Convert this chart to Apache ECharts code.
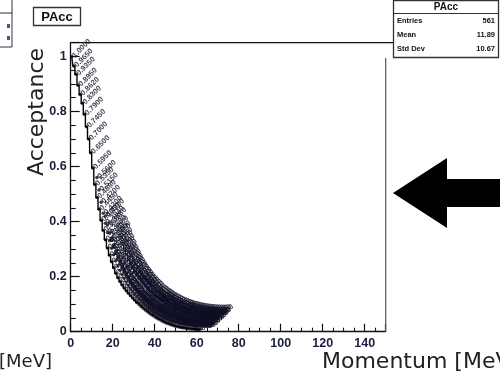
<!DOCTYPE html>
<html>
<head>
<meta charset="utf-8">
<script src="https://cdn.jsdelivr.net/npm/echarts@6/dist/echarts.min.js"></script>
<style>
  html, body { margin: 0; padding: 0; background: #ffffff; }
  #chart { width: 500px; height: 373px; }
</style>
</head>
<body>
<div id="chart"></div>
<script>
// Axis ticks
const xTickLabels = [0, 20, 40, 60, 80, 100, 120, 140];
const yTickLabels = [0, 0.2, 0.4, 0.6, 0.8, 1];

// Acceptance per 1 MeV momentum bin; each curve starts at its first bin edge
const mainStart = 0;
const mainValues = [1.000, 0.965, 0.935, 0.895, 0.862, 0.830, 0.790, 0.745, 0.700, 0.650,
  0.595, 0.535, 0.488, 0.445, 0.405, 0.368, 0.334, 0.304, 0.278, 0.254,
  0.232, 0.212, 0.196, 0.182, 0.170, 0.159, 0.149, 0.140, 0.131, 0.122,
  0.114, 0.106, 0.099, 0.092, 0.085, 0.079, 0.073, 0.067, 0.062, 0.057,
  0.052, 0.047, 0.043, 0.039, 0.035, 0.032, 0.029, 0.026, 0.023, 0.021,
  0.019, 0.017, 0.015, 0.014, 0.013, 0.012, 0.011, 0.010, 0.010, 0.009,
  0.008, 0.008];

const midStart = 12;
const midValues = [0.560, 0.515, 0.470, 0.430, 0.394, 0.360, 0.330, 0.303, 0.280, 0.258,
  0.240, 0.223, 0.208, 0.194, 0.181, 0.169, 0.158, 0.148, 0.138, 0.129,
  0.120, 0.112, 0.104, 0.097, 0.090, 0.084, 0.078, 0.072, 0.067, 0.062,
  0.058, 0.054, 0.050, 0.047, 0.044, 0.041, 0.038, 0.036, 0.034, 0.032,
  0.030, 0.029, 0.027, 0.026, 0.025, 0.024, 0.023, 0.022, 0.022, 0.021,
  0.021, 0.020, 0.020, 0.020, 0.019];

const upperStart = 16;
const upperValues = [0.420, 0.388, 0.358, 0.331, 0.307, 0.285, 0.265, 0.247, 0.231, 0.216,
  0.202, 0.189, 0.177, 0.166, 0.155, 0.145, 0.136, 0.127, 0.119, 0.111,
  0.104, 0.097, 0.091, 0.085, 0.080, 0.075, 0.070, 0.066, 0.062, 0.058,
  0.055, 0.052, 0.049, 0.046, 0.044, 0.042, 0.040, 0.038, 0.036, 0.035,
  0.033, 0.032, 0.031, 0.030, 0.029, 0.028, 0.028, 0.027, 0.027, 0.026,
  0.026, 0.026];

const highStart = 19;
const highValues = [0.340, 0.316, 0.294, 0.274, 0.256, 0.239, 0.224, 0.210, 0.197, 0.185,
  0.174, 0.164, 0.154, 0.145, 0.137, 0.129, 0.121, 0.114, 0.107, 0.101,
  0.095, 0.090, 0.085, 0.080, 0.076, 0.072, 0.068, 0.064, 0.061, 0.058,
  0.055, 0.052, 0.050, 0.048, 0.046, 0.044, 0.042, 0.041, 0.040, 0.039,
  0.038, 0.037, 0.036, 0.036, 0.035, 0.035, 0.035, 0.035, 0.036, 0.036];

// Statistics box
const histName = 'PAcc';
const statNames = ['Entries', 'Mean', 'Std Dev'];
const statValues = ['561', '11.89', '10.67'];

function toPoints(start, values) {
  return values.map((v, i) => [start + i + 0.5, v]);
}

const textColor = '#1b1e3c';
const frame = { left: 70.7, right: 385.7, top: 42.7, bottom: 331.7 };

function binLabels(start, values) {
  return {
    type: 'scatter',
    data: toPoints(start, values),
    symbol: 'circle',
    symbolSize: 3.5,
    itemStyle: { color: '#0b0b16' },
    silent: true,
    z: 3,
    label: {
      show: true,
      position: 'right',
      distance: 0,
      rotate: 45,
      fontSize: 7.5,
      fontWeight: 'bold',
      fontFamily: 'Liberation Sans, Arial, sans-serif',
      color: '#0f0f26',
      formatter: p => p.value[1].toFixed(4)
    }
  };
}

const chart = echarts.init(document.getElementById('chart'), null, { renderer: 'canvas' });

chart.setOption({
  animation: false,
  backgroundColor: '#ffffff',
  grid: {
    left: frame.left,
    right: 500 - frame.right,
    top: frame.top,
    bottom: 373 - frame.bottom,
    containLabel: false
  },
  xAxis: {
    type: 'value',
    min: 0,
    max: 150,
    interval: 20,
    axisLine: { show: true, onZero: false, lineStyle: { color: '#111', width: 1.3 } },
    axisTick: { show: true, inside: true, length: 8, lineStyle: { color: '#111', width: 1.2 } },
    minorTick: { show: true, splitNumber: 4, length: 4, lineStyle: { color: '#111', width: 1.1 } },
    splitLine: { show: false },
    axisLabel: {
      showMaxLabel: false,
      margin: 5,
      fontSize: 12.5,
      fontWeight: 'bold',
      fontFamily: 'Liberation Sans, Arial, sans-serif',
      color: textColor,
      formatter: v => (xTickLabels.indexOf(v) >= 0 ? String(v) : '')
    }
  },
  yAxis: {
    type: 'value',
    min: 0,
    max: 1.05,
    interval: 0.2,
    axisLine: { show: true, onZero: false, lineStyle: { color: '#111', width: 1.3 } },
    axisTick: { show: true, inside: true, length: 9, lineStyle: { color: '#111', width: 1.2 } },
    minorTick: { show: true, splitNumber: 4, length: 5, lineStyle: { color: '#111', width: 1.1 } },
    splitLine: { show: false },
    axisLabel: {
      showMaxLabel: false,
      margin: 4,
      fontSize: 12.5,
      fontWeight: 'bold',
      fontFamily: 'Liberation Sans, Arial, sans-serif',
      color: textColor,
      formatter: v => {
        const r = Math.round(v * 100) / 100;
        return yTickLabels.indexOf(r) >= 0 ? String(r) : '';
      }
    }
  },
  series: [
    {
      type: 'line',
      step: 'middle',
      data: toPoints(mainStart, mainValues),
      showSymbol: false,
      silent: true,
      z: 4,
      lineStyle: { color: '#000', width: 1.4 }
    },
    binLabels(mainStart, mainValues),
    binLabels(midStart, midValues),
    binLabels(upperStart, upperValues),
    binLabels(highStart, highValues)
  ],
  graphic: [
    // frame top and right edges
    { type: 'polyline', silent: true, z: 10,
      shape: { points: [[frame.left, frame.top], [393, frame.top]] },
      style: { stroke: '#111', lineWidth: 1.2, fill: null } },
    { type: 'polyline', silent: true, z: 10,
      shape: { points: [[frame.right, 58], [frame.right, frame.bottom]] },
      style: { stroke: '#555', lineWidth: 1.2, fill: null } },
    // partial neighbouring pad at the left edge
    { type: 'rect', silent: true, z: 10,
      shape: { x: -2, y: -2, width: 14, height: 49 },
      style: { fill: '#fff', stroke: '#333', lineWidth: 1 } },
    { type: 'line', silent: true, z: 10,
      shape: { x1: 0, y1: 13, x2: 12, y2: 13 },
      style: { stroke: '#333', lineWidth: 1 } },
    { type: 'rect', silent: true, z: 10, shape: { x: 7, y: 24, width: 3, height: 4 }, style: { fill: '#3a5a9a' } },
    { type: 'rect', silent: true, z: 10, shape: { x: 7, y: 36, width: 3, height: 4 }, style: { fill: '#3a5a9a' } },
    // histogram title box
    { type: 'rect', silent: true, z: 10,
      shape: { x: 33.5, y: 7.5, width: 47, height: 18 },
      style: { fill: '#fff', stroke: '#333', lineWidth: 1.3 } },
    { type: 'text', silent: true, z: 11, x: 57, y: 17,
      style: { text: histName, fill: '#111', font: 'bold 13px "Liberation Sans", Arial, sans-serif',
        align: 'center', verticalAlign: 'middle' } },
    // statistics box
    { type: 'rect', silent: true, z: 10,
      shape: { x: 393.5, y: 0.5, width: 105, height: 57 },
      style: { fill: '#fff', stroke: '#333', lineWidth: 1.3 } },
    { type: 'line', silent: true, z: 11,
      shape: { x1: 393.5, y1: 13.5, x2: 498.5, y2: 13.5 },
      style: { stroke: '#333', lineWidth: 1 } },
    { type: 'text', silent: true, z: 11, x: 446, y: 7.5,
      style: { text: histName, fill: '#111', font: 'bold 10px "Liberation Sans", Arial, sans-serif',
        align: 'center', verticalAlign: 'middle' } },
    ...statNames.map((n, i) => ({
      type: 'text', silent: true, z: 11, x: 397, y: 21 + i * 14,
      style: { text: n, fill: '#111', font: 'bold 7.5px "Liberation Sans", Arial, sans-serif',
        align: 'left', verticalAlign: 'middle' }
    })),
    ...statValues.map((v, i) => ({
      type: 'text', silent: true, z: 11, x: 495, y: 21 + i * 14,
      style: { text: v, fill: '#111', font: 'bold 7.5px "Liberation Sans", Arial, sans-serif',
        align: 'right', verticalAlign: 'middle' }
    })),
    // axis titles
    { type: 'text', silent: true, z: 11, x: 37, y: 112, rotation: Math.PI / 2,
      style: { text: 'Acceptance', fill: '#222', font: '22px "DejaVu Sans", sans-serif',
        align: 'center', verticalAlign: 'middle' } },
    { type: 'text', silent: true, z: 11, x: 322, y: 362,
      style: { text: 'Momentum [MeV', fill: '#222', font: '22px "DejaVu Sans", sans-serif',
        align: 'left', verticalAlign: 'middle' } },
    { type: 'text', silent: true, z: 11, x: -1, y: 362,
      style: { text: '[MeV]', fill: '#222', font: '18px "DejaVu Sans", sans-serif',
        align: 'left', verticalAlign: 'middle' } },
    // pointer arrow
    { type: 'polygon', silent: true, z: 11,
      shape: { points: [[393, 193], [447, 158], [447, 179], [501, 179], [501, 207], [447, 207], [447, 228]] },
      style: { fill: '#000' } }
  ]
});
</script>
</body>
</html>
